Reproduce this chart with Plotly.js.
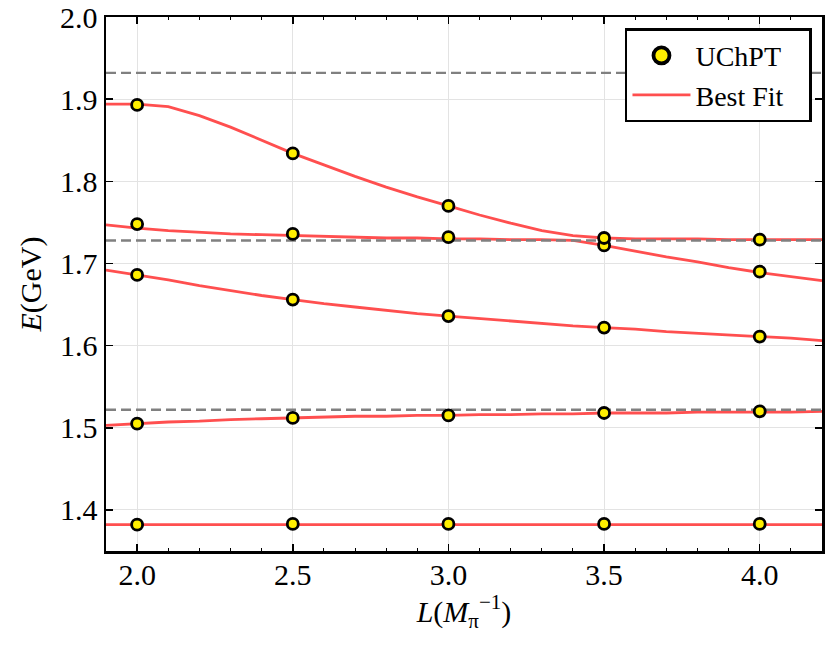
<!DOCTYPE html>
<html>
<head>
<meta charset="utf-8">
<script src="https://cdn.plot.ly/plotly-3.0.1.min.js"></script>
<style>
  html, body { margin: 0; padding: 0; background: #fff; }
  #chart { width: 830px; height: 646px; }
</style>
</head>
<body>
<div id="chart"></div>
<script>
// lattice sizes where the UChPT levels were computed
let L = [2.0, 2.5, 3.0, 3.5, 4.0];

// UChPT energy levels (GeV), one array per level
let level1 = [1.893, 1.834, 1.770, 1.722, 1.690];
let level2 = [1.748, 1.736, 1.732, 1.731, 1.729];
let level3 = [1.686, 1.656, 1.636, 1.622, 1.611];
let level4 = [1.505, 1.512, 1.515, 1.518, 1.520];
let level5 = [1.382, 1.383, 1.383, 1.383, 1.383];

// best fit curves, sampled every 0.1 in L
let Lfit = [1.9, 2.0, 2.1, 2.2, 2.3, 2.4, 2.5, 2.6, 2.7, 2.8, 2.9, 3.0,
            3.1, 3.2, 3.3, 3.4, 3.5, 3.6, 3.7, 3.8, 3.9, 4.0, 4.1, 4.2];
let fit1 = [1.894, 1.894, 1.891, 1.880, 1.866, 1.850, 1.834, 1.820, 1.806, 1.793, 1.781, 1.770,
            1.759, 1.749, 1.740, 1.734, 1.731, 1.730, 1.730, 1.730, 1.729, 1.729, 1.729, 1.729];
let fit2 = [1.747, 1.743, 1.740, 1.738, 1.736, 1.735, 1.734, 1.733, 1.732, 1.731, 1.731, 1.730,
            1.730, 1.729, 1.729, 1.728, 1.722, 1.715, 1.708, 1.702, 1.695, 1.689, 1.684, 1.679];
let fit3 = [1.692, 1.686, 1.680, 1.673, 1.667, 1.661, 1.656, 1.651, 1.647, 1.643, 1.639, 1.636,
            1.633, 1.630, 1.627, 1.624, 1.622, 1.620, 1.617, 1.615, 1.613, 1.611, 1.609, 1.606];
let fit4 = [1.503, 1.505, 1.507, 1.508, 1.510, 1.511, 1.512, 1.513, 1.514, 1.514, 1.515, 1.515,
            1.516, 1.516, 1.517, 1.517, 1.518, 1.518, 1.518, 1.519, 1.519, 1.519, 1.519, 1.520];
let fit5 = [1.382, 1.382, 1.382, 1.382, 1.382, 1.382, 1.382, 1.382, 1.382, 1.382, 1.382, 1.382,
            1.382, 1.382, 1.382, 1.382, 1.382, 1.382, 1.382, 1.382, 1.382, 1.382, 1.382, 1.382];

// thresholds (dashed lines)
let thresholds = [1.932, 1.728, 1.522];

let xRange = [1.9, 4.2];
let yRange = [1.35, 2.0];

let redLine = "rgba(255, 60, 60, 0.9)";
let serif = "Liberation Serif, Times New Roman, serif";

let traces = [];

// red fit lines
[fit1, fit2, fit3, fit4, fit5].forEach(function (f) {
    traces.push({
        type: "scatter", mode: "lines",
        x: Lfit, y: f,
        line: {color: redLine, width: 2.8},
        name: "Best Fit",
        showlegend: false,
        hoverinfo: "x+y"
    });
});

// dashed threshold lines
thresholds.forEach(function (t) {
    traces.push({
        type: "scatter", mode: "lines",
        x: xRange, y: [t, t],
        line: {color: "rgb(128,128,128)", width: 2.4, dash: "10px,5px"},
        showlegend: false,
        hoverinfo: "y"
    });
});

// UChPT points
[level1, level2, level3, level4, level5].forEach(function (lv) {
    traces.push({
        type: "scatter", mode: "markers",
        x: L, y: lv,
        marker: {size: 11, color: "#ffee00", line: {color: "black", width: 2.8}},
        name: "UChPT",
        showlegend: false
    });
});

// legend entries only
traces.push({
    type: "scatter", mode: "markers",
    x: [null], y: [null],
    marker: {size: 16, color: "#ffee00", line: {color: "black", width: 3.8}},
    name: "UChPT"
});
traces.push({
    type: "scatter", mode: "lines",
    x: [null], y: [null],
    line: {color: redLine, width: 2.8},
    name: "Best Fit\u00a0\u00a0\u00a0"
});

let axisCommon = {
    showline: true, linecolor: "black", linewidth: 2.5, mirror: "ticks",
    ticks: "inside", ticklen: 7, tickwidth: 1.5, tickcolor: "black",
    showgrid: true, gridcolor: "#e3e3e3", gridwidth: 1,
    zeroline: false,
    tickfont: {family: serif, size: 30, color: "black"}
};

let layout = {
    width: 830, height: 646,
    margin: {l: 106, r: 8, t: 17, b: 95},
    paper_bgcolor: "white", plot_bgcolor: "white",
    showlegend: true,
    legend: {
        x: 0.986, y: 0.979, xanchor: "right", yanchor: "top",
        bgcolor: "white", bordercolor: "black", borderwidth: 2.5,
        font: {family: serif, size: 28, color: "black"},
        itemwidth: 58, tracegroupgap: 0
    },
    xaxis: Object.assign({}, axisCommon, {
        range: xRange,
        tickvals: [2.0, 2.5, 3.0, 3.5, 4.0],
        ticktext: ["2.0", "2.5", "3.0", "3.5", "4.0"],
        ticklabelstandoff: -5,
        minor: {dtick: 0.1, ticks: "inside", ticklen: 3, tickwidth: 1, tickcolor: "black", showgrid: false},
        title: {text: "<i>L</i>(<i>M</i><sub>π</sub><sup>−1</sup>)", font: {family: serif, size: 30, color: "black"}, standoff: 0}
    }),
    yaxis: Object.assign({}, axisCommon, {
        range: yRange,
        tickvals: [1.4, 1.5, 1.6, 1.7, 1.8, 1.9, 2.0],
        ticktext: ["1.4", "1.5", "1.6", "1.7", "1.8", "1.9", "2.0"],
        title: {text: "<i>E</i>(GeV)", font: {family: serif, size: 30, color: "black"}, standoff: 10}
    })
};

Plotly.newPlot("chart", traces, layout, {displayModeBar: false, staticPlot: true});
</script>
</body>
</html>
